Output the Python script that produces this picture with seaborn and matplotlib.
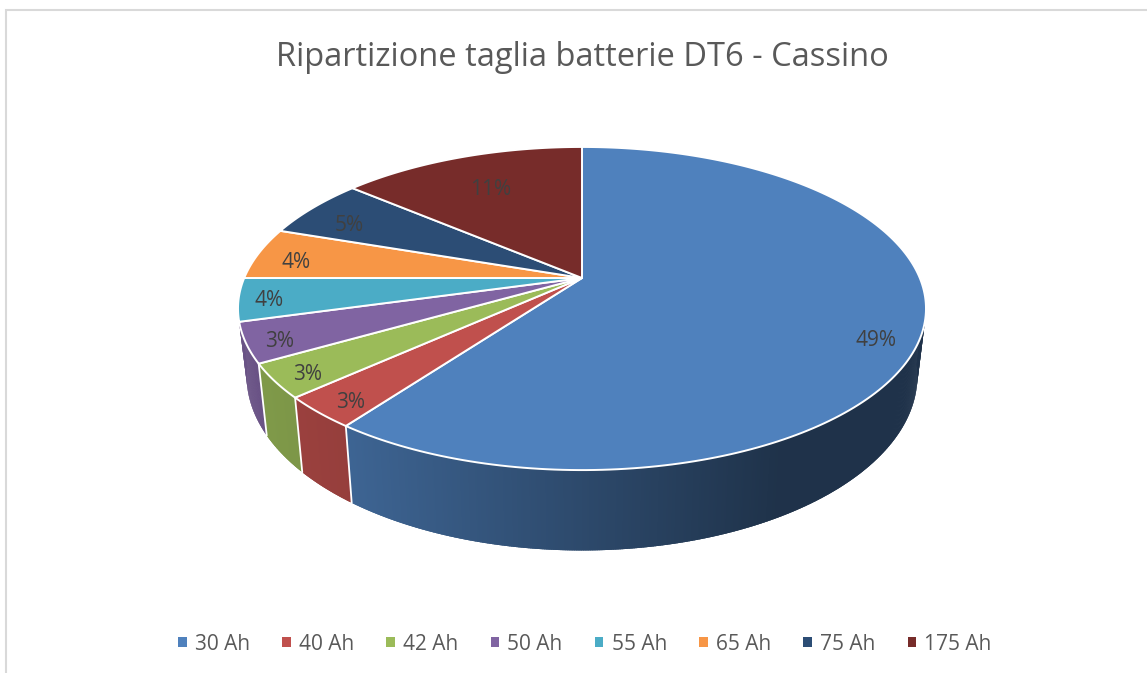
import numpy as np
import matplotlib
matplotlib.use("Agg")
import matplotlib.pyplot as plt
from matplotlib.patches import Patch, Polygon
import seaborn as sns

# ---- data ----
categories = ["30 Ah", "40 Ah", "42 Ah", "50 Ah", "55 Ah", "65 Ah", "75 Ah", "175 Ah"]
slice_shares = [60.1, 3.2, 3.4, 4.0, 4.3, 5.2, 6.0, 13.8]   # drawn size of each slice
slice_labels = ["49%", "3%", "3%", "3%", "4%", "4%", "5%", "11%"]
colors = ["#4F81BD", "#C0504D", "#9BBB59", "#8064A2", "#4BACC6", "#F79646", "#2C4D75", "#772C2A"]
title = "Ripartizione taglia batterie DT6 - Cassino"

# ---- layout / style ----
label_radius = [0.887, 0.907, 0.907, 0.909, 0.912, 0.873, 0.83, 0.726]
label_turn = [5.7, -1, -0.6, -1, 0, -1.5, -2.5, 0]
CX, CY = 582.0, 278.0
PERSP_C, PERSP_A, PERSP_D = -0.1889, 155.8, 337.8
GREY = "#595959"
WALL_START, WALL_END = 97.0, 262.0   # visible arc of the side wall, degrees
LAST_WALL_SLICE = 3                  # the 50 Ah slice is the last one with a visible wall
LABEL_DROP = 2.5                     # optical centring of the labels, px

sns.set_theme(style="white")
plt.rcParams["font.family"] = ["Open Sans", "DejaVu Sans"]
palette = sns.color_palette(colors)


def rim(theta_deg, r=1.0):
    """Project a point of the pie disc (clockwise from 12 o'clock) to offsets from the apex."""
    t = np.radians(theta_deg)
    x, y = r * np.sin(t), -r * np.cos(t)
    w = 1 + PERSP_C * y
    return PERSP_D * x / w, PERSP_A * y / w


def lower(X, Y):
    """Matching point on the lower rim of the extruded pie."""
    return X * 0.975, Y * 1.08 + 65


def shade(X):
    return np.interp(X, [-340, -237, 0, 200, 344], [0.83, 0.78, 0.57, 0.39, 0.39])


fig = plt.figure(figsize=(11.47, 6.73), dpi=100, facecolor="white")
ax = fig.add_axes([0, 0, 1, 1])
ax.set_xlim(0, 1147)
ax.set_ylim(673, 0)
ax.axis("off")

# frame of the chart area
ax.plot([6, 6, 1147], [673, 10, 10], color="#D9D9D9", lw=1.5, solid_joinstyle="miter", zorder=1)

edges = np.concatenate([[0], np.cumsum(slice_shares)])
edges = edges / edges[-1] * 360.0

# side wall: overlapping strips with a horizontal gradient, drawn in angle order
for i, col in enumerate(palette[:LAST_WALL_SLICE + 1]):
    a0 = max(edges[i], WALL_START)
    a1 = WALL_END if i == LAST_WALL_SLICE else edges[i + 1]
    for t0 in np.arange(a0, a1, 0.25):
        t1 = min(t0 + 0.6, a1)
        X0, Y0 = rim(t0)
        X1, Y1 = rim(t1)
        bx0, by0 = lower(X0, Y0)
        bx1, by1 = lower(X1, Y1)
        c = tuple(np.array(col) * float(shade(X0)))
        ax.add_patch(Polygon([(CX + X0, CY + Y0), (CX + X1, CY + Y1), (CX + bx1, CY + by1), (CX + bx0, CY + by0)],
                             closed=True, facecolor=c, edgecolor="none", lw=0, zorder=2))

# white separators on the wall
for b in edges[1:LAST_WALL_SLICE + 1]:
    X, Y = rim(b)
    bx, by = lower(X, Y)
    ax.plot([CX + X, CX + bx], [CY + Y, CY + by], color="white", lw=1.3, zorder=3)

# top of the pie
for i, col in enumerate(palette):
    th = np.linspace(edges[i], edges[i + 1], 200)
    X, Y = rim(th)
    pts = [(CX, CY)] + list(zip(CX + X, CY + Y))
    ax.add_patch(Polygon(pts, closed=True, facecolor=col, edgecolor="white", lw=1.4,
                         joinstyle="round", zorder=4))

# data labels
for i, lab in enumerate(slice_labels):
    mid = (edges[i] + edges[i + 1]) / 2 + label_turn[i]
    X, Y = rim(mid, label_radius[i])
    ax.text(CX + X, CY + Y + LABEL_DROP, lab, ha="center", va="center", fontsize=15, color="#404040", zorder=5)

ax.text(582, 58, title, ha="center", va="center", fontsize=23.5, color=GREY, zorder=5)

handles = [Patch(facecolor=c, edgecolor="none", label=n) for c, n in zip(palette, categories)]
ax.legend(handles=handles, ncol=len(categories), loc="center", bbox_to_anchor=(585 / 1147, 1 - 644 / 673),
          frameon=False, fontsize=15, labelcolor=GREY, handlelength=0.4, handleheight=0.4,
          handletextpad=0.4, columnspacing=1.55, borderpad=0, borderaxespad=0)

fig.savefig("out.png", dpi=100)
